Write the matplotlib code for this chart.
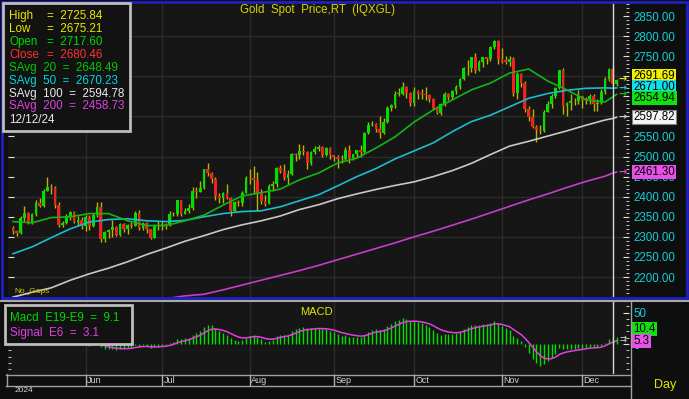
import matplotlib
matplotlib.use("Agg")
import matplotlib.pyplot as plt
import matplotlib.transforms as mtransforms
from matplotlib.lines import Line2D
from matplotlib.patches import Rectangle
from matplotlib.ticker import MultipleLocator, FuncFormatter
import numpy as np
import pandas as pd

plt.rcParams["font.family"] = ["Liberation Sans", "DejaVu Sans"]

# ---- data (daily bars, 7 May - 13 Dec 2024) ----
dates = pd.bdate_range("2024-05-07", "2024-12-13")

opens = [2323, 2314, 2309, 2346, 2360, 2336, 2358, 2385, 2377, 2415, 2425, 2421, 2379, 2329, 2334, 2351, 2361, 2338, 2343,
         2327, 2350, 2327, 2355, 2375, 2294, 2311, 2316, 2324, 2304, 2333, 2319, 2329, 2328, 2360, 2322, 2334, 2319, 2298, 2327,
         2326, 2332, 2330, 2356, 2356, 2392, 2358, 2364, 2371, 2415, 2411, 2422, 2469, 2459, 2445, 2401, 2396, 2409, 2398, 2364, 2387, 2384, 2410,
         2447, 2446, 2442, 2409, 2390, 2382, 2427, 2431, 2472, 2465, 2447, 2456, 2507, 2504, 2514, 2512, 2484, 2512, 2518, 2524, 2504, 2521,
         2503, 2500, 2493, 2495, 2516, 2497, 2506, 2516, 2512, 2558, 2578, 2582, 2569, 2559, 2587, 2622, 2629, 2657, 2657, 2672, 2658,
         2634, 2663, 2657, 2656, 2653, 2644, 2622, 2608, 2630, 2657, 2649, 2662, 2674, 2693, 2721, 2720, 2748, 2715, 2736, 2747, 2743, 2774, 2788,
         2744, 2741, 2736, 2743, 2659, 2706, 2684, 2618, 2598, 2573, 2565, 2563, 2612, 2631, 2651, 2670, 2715, 2626, 2633, 2638, 2639,
         2650, 2640, 2643, 2650, 2632, 2633, 2660, 2694, 2717.60, 2680.46]
highs = [2326, 2318, 2351, 2378, 2363, 2360, 2391, 2398, 2418, 2450, 2432, 2427, 2386, 2339, 2358, 2364, 2364, 2351, 2349,
         2354, 2354, 2359, 2388, 2387, 2314, 2320, 2342, 2326, 2335, 2334, 2333, 2336, 2365, 2368, 2337, 2336, 2320, 2331, 2339,
         2339, 2335, 2365, 2363, 2393, 2393, 2372, 2381, 2424, 2424, 2440, 2470, 2483, 2461, 2449, 2409, 2412, 2431, 2400, 2390, 2393, 2413, 2451,
         2470, 2477, 2461, 2420, 2404, 2431, 2438, 2474, 2479, 2481, 2467, 2509, 2510, 2531, 2528, 2514, 2513, 2526, 2528, 2526, 2524, 2523,
         2505, 2503, 2503, 2523, 2529, 2507, 2517, 2529, 2560, 2586, 2589, 2583, 2600, 2595, 2626, 2632, 2664, 2670, 2685, 2675, 2660,
         2673, 2666, 2669, 2672, 2655, 2646, 2627, 2633, 2661, 2658, 2665, 2677, 2696, 2722, 2740, 2749, 2758, 2740, 2748, 2748, 2775, 2790, 2790,
         2770, 2750, 2750, 2749, 2710, 2709, 2687, 2627, 2618, 2578, 2578, 2616, 2639, 2656, 2674, 2716, 2721, 2635, 2655, 2646, 2665,
         2651, 2648, 2657, 2656, 2644, 2668, 2697, 2721, 2725.84, 2693]
lows = [2308, 2303, 2306, 2340, 2333, 2332, 2353, 2375, 2374, 2413, 2407, 2372, 2325, 2325, 2332, 2341, 2334, 2326, 2319,
        2314, 2316, 2325, 2349, 2287, 2287, 2298, 2299, 2301, 2302, 2311, 2306, 2323, 2326, 2317, 2316, 2310, 2294, 2297, 2318,
        2318, 2319, 2326, 2351, 2353, 2353, 2356, 2360, 2368, 2397, 2411, 2419, 2451, 2433, 2393, 2384, 2384, 2395, 2353, 2361, 2376, 2377, 2409,
        2431, 2410, 2364, 2383, 2377, 2381, 2415, 2424, 2460, 2442, 2432, 2453, 2489, 2495, 2504, 2470, 2480, 2507, 2513, 2500, 2502, 2493,
        2490, 2472, 2484, 2491, 2485, 2491, 2498, 2500, 2510, 2555, 2576, 2560, 2546, 2555, 2584, 2613, 2622, 2652, 2654, 2645, 2625,
        2625, 2643, 2644, 2642, 2636, 2615, 2605, 2603, 2627, 2640, 2643, 2656, 2669, 2690, 2704, 2710, 2708, 2713, 2722, 2730, 2737, 2767, 2731,
        2733, 2730, 2725, 2652, 2644, 2673, 2610, 2589, 2572, 2537, 2555, 2560, 2610, 2620, 2645, 2667, 2605, 2602, 2616, 2629, 2632,
        2622, 2630, 2632, 2613, 2614, 2631, 2657, 2689, 2675.21, 2676]
closes = [2314, 2309, 2346, 2360, 2336, 2358, 2385, 2377, 2415, 2425, 2421, 2379, 2329, 2334, 2351, 2361, 2338, 2343, 2327,
          2350, 2327, 2355, 2375, 2294, 2311, 2316, 2324, 2304, 2333, 2319, 2329, 2328, 2360, 2322, 2334, 2319, 2298, 2327, 2326,
          2332, 2330, 2356, 2356, 2392, 2358, 2364, 2371, 2415, 2411, 2422, 2469, 2459, 2445, 2401, 2396, 2409, 2398, 2364, 2387, 2384, 2410, 2447,
          2446, 2442, 2409, 2390, 2382, 2427, 2431, 2472, 2465, 2447, 2456, 2507, 2504, 2514, 2512, 2484, 2512, 2518, 2524, 2504, 2521, 2503,
          2500, 2493, 2495, 2516, 2497, 2506, 2516, 2512, 2558, 2578, 2582, 2569, 2559, 2587, 2622, 2629, 2657, 2657, 2672, 2658, 2634,
          2663, 2657, 2656, 2653, 2644, 2622, 2608, 2630, 2657, 2649, 2662, 2674, 2693, 2721, 2720, 2748, 2715, 2736, 2747, 2743, 2774, 2788, 2744,
          2736, 2736, 2743, 2659, 2706, 2684, 2618, 2598, 2573, 2565, 2563, 2612, 2631, 2651, 2670, 2715, 2626, 2633, 2638, 2639, 2650,
          2640, 2643, 2650, 2632, 2633, 2660, 2694, 2718, 2680.46, 2691.69]

# moving averages every 5th bar, plus the last two bars
ma_idx = list(range(0, 156, 5)) + [157, 158]
sma20 = [2338, 2335, 2348, 2350, 2358, 2358, 2340, 2328, 2328, 2340, 2354, 2379, 2402, 2410, 2419, 2442,
         2459, 2484, 2496, 2521, 2549, 2586, 2616, 2641, 2666, 2683, 2708, 2718, 2688, 2666, 2641, 2636, 2648.49, 2654.94]
sma50 = [2258, 2275, 2298, 2320, 2337, 2343, 2345, 2340, 2338, 2341, 2350, 2358, 2363, 2365, 2375, 2390,
         2405, 2427, 2450, 2470, 2494, 2514, 2534, 2562, 2587, 2603, 2624, 2645, 2657, 2665, 2670, 2671, 2670.23, 2671.00]
sma100 = [2150, 2162, 2173, 2192, 2208, 2222, 2238, 2256, 2272, 2289, 2303, 2318, 2330, 2340, 2352, 2368,
          2380, 2395, 2407, 2418, 2428, 2437, 2450, 2465, 2483, 2505, 2526, 2538, 2551, 2564, 2578, 2591, 2594.78, 2597.82]
sma200 = [2085, 2093, 2101, 2108, 2116, 2124, 2131, 2138, 2146, 2153, 2157, 2168, 2180, 2192, 2204, 2216,
          2229, 2243, 2257, 2271, 2285, 2300, 2314, 2329, 2344, 2360, 2376, 2392, 2407, 2423, 2438, 2451, 2458.73, 2461.30]

cursor = 157                      # 12/12/24
macd_legend = (9.1, 3.1)          # values shown in the MACD box at the cursor
macd_tags = (10.4, 5.3)           # values on the right axis (last bar)

# ---- colours ----
BG = "#161616"
FIG_BG = "#0e0e0e"
GRID = "#2c2c2c"
GREEN = "#00e000"
RED = "#f22020"
WICK = "#bab400"
YELLOW = "#e4e400"
CYAN = "#10d0d8"
MA20 = "#14b414"
MA50 = "#1cbccc"
MA100 = "#c8c8c8"
MA200 = "#c83cc8"
MAG = "#e040e0"

W, H = 689, 399


def fx(px):
    return px / W


def fy(py):
    return 1 - py / H


fig = plt.figure(figsize=(W / 100, H / 100), dpi=100, facecolor=FIG_BG)
ax = fig.add_axes([fx(8), fy(297), fx(629) - fx(8), fy(3) - fy(297)], facecolor=BG)
axm = fig.add_axes([fx(8), fy(374), fx(629) - fx(8), fy(302) - fy(374)], facecolor=BG)
axd = fig.add_axes([fx(8), fy(386), fx(629) - fx(8), fy(374) - fy(386)], facecolor="none")

x = np.arange(len(closes))
xlim = (-1.31, 161.26)
month_starts = [i for i in range(1, len(dates)) if dates[i].month != dates[i - 1].month]

# ---- price pane ----
ax.set_xlim(*xlim)
ax.set_ylim(2150.2, 2882.4)
for v in range(2200, 2801, 100):
    ax.axhline(v, color=GRID, lw=1, zorder=0)
for i in month_starts:
    ax.axvline(i, color=GRID, lw=1, zorder=0)

o, h, l, c = map(np.array, (opens, highs, lows, closes))
ax.vlines(x, l, h, color=WICK, lw=1, zorder=2)
body = np.maximum(np.abs(c - o), 1.5)
ax.bar(x, body, bottom=np.minimum(o, c), width=0.72,
       color=np.where(c >= o, GREEN, RED), linewidth=0, zorder=3)

ax.plot(ma_idx, sma200, color=MA200, lw=1.2, zorder=4)
ax.plot(ma_idx, sma100, color=MA100, lw=1.2, zorder=4)
ax.plot(ma_idx, sma50, color=MA50, lw=1.2, zorder=4)
ax.plot(ma_idx, sma20, color=MA20, lw=1.2, zorder=4)
ax.axvline(cursor, color="#d8d8d8", lw=1, zorder=5)

ax.yaxis.tick_right()
ax.yaxis.set_major_locator(MultipleLocator(50))
ax.yaxis.set_minor_locator(MultipleLocator(10))
ax.yaxis.set_major_formatter(FuncFormatter(lambda v, p: f"{v:.2f}"))
ax.tick_params(axis="y", which="both", direction="in", color="#e0e0e0", left=True, right=True,
               labelleft=False, labelright=True, labelcolor=CYAN, labelsize=8.3, pad=3)
ax.tick_params(axis="y", which="major", length=4)
ax.tick_params(axis="y", which="minor", length=2.5, left=False)
ax.tick_params(axis="x", bottom=False, labelbottom=False)
for s in ax.spines.values():
    s.set_visible(False)


def tag_positions(values, gap, anchor="mid"):
    # push overlapping tags apart: centred on the group, or resting on its lowest tag
    order = sorted(range(len(values)), key=lambda k: -values[k])
    groups, cur = [], [order[0]]
    for k in order[1:]:
        if values[cur[-1]] - values[k] < gap:
            cur.append(k)
        else:
            groups.append(cur)
            cur = [k]
    groups.append(cur)
    pos = list(values)
    for g in groups:
        if anchor == "mid":
            top = np.mean([values[k] for k in g]) + gap * (len(g) - 1) / 2
        else:
            top = values[g[-1]] + gap * (len(g) - 1)
        for j, k in enumerate(g):
            pos[k] = top - j * gap
    return pos


def px_per_unit(a):
    y0, y1 = a.get_ylim()
    return a.bbox.height / (y1 - y0)


tag_x = (633.5 - 8) / 621
arrow_x = (623 - 8) / 621

last_vals = [closes[-1], sma50[-1], sma20[-1], sma100[-1], sma200[-1]]
last_cols = ["#f0f000", "#10e0e8", "#10e010", "#f4f4f4", "#e850e8"]
arrow_cols = [YELLOW, CYAN, "#10c010", "#d0d0d0", MAG]
trans = mtransforms.blended_transform_factory(ax.transAxes, ax.transData)
for v, p, fc, ac in zip(last_vals, tag_positions(last_vals, 11 / px_per_unit(ax)), last_cols, arrow_cols):
    ax.text(arrow_x, v, "\u2192", transform=trans, ha="center", va="center", fontsize=7,
            fontweight="bold", family="DejaVu Sans", color=ac, clip_on=False, zorder=6)
    ax.text(tag_x, p, f"{v:.2f}", transform=trans, ha="left", va="center", fontsize=8.3, color="black",
            bbox=dict(boxstyle="square,pad=0.1", fc=fc, ec="#808080" if fc == "#f4f4f4" else "none", lw=0.8),
            clip_on=False, zorder=6)

ax.text(0.01, 0.018, "No_Gaps", transform=ax.transAxes, fontsize=6, color="#c8c800", va="center", zorder=6)

# ---- MACD pane ----
cs = pd.Series(closes, dtype=float)
macd = cs.ewm(span=9, adjust=False).mean() - cs.ewm(span=19, adjust=False).mean()
signal = macd.ewm(span=6, adjust=False).mean()

axm.set_xlim(*xlim)
axm.set_ylim(-47.6, 66.7)
for i in month_starts:
    axm.axvline(i, color=GRID, lw=1, zorder=0)
axm.vlines(x, 0, macd, color=GREEN, lw=1, zorder=2)
axm.plot(x, signal, color=MAG, lw=1.1, zorder=3)
axm.axvline(cursor, color="#d8d8d8", lw=1, zorder=5)

axm.yaxis.tick_right()
axm.yaxis.set_major_locator(MultipleLocator(50))
axm.yaxis.set_minor_locator(MultipleLocator(10))
axm.yaxis.set_major_formatter(FuncFormatter(lambda v, p: f"{v:.0f}"))
axm.tick_params(axis="y", which="both", direction="in", color="#e0e0e0", left=True, right=True,
                labelleft=False, labelright=True, labelcolor=CYAN, labelsize=8.3, pad=3)
axm.tick_params(axis="y", which="major", length=4)
axm.tick_params(axis="y", which="minor", length=2.5)
axm.tick_params(axis="x", bottom=False, labelbottom=False)
for s in axm.spines.values():
    s.set_visible(False)
axm.text(0.497, 0.86, "MACD", transform=axm.transAxes, ha="center", va="center", fontsize=8, color=YELLOW)

transm = mtransforms.blended_transform_factory(axm.transAxes, axm.transData)
for v, p, fc in zip(macd_tags, tag_positions(list(macd_tags), 12 / px_per_unit(axm), anchor="bottom"),
                    ["#10e010", "#e850e8"]):
    axm.text(arrow_x, v, "\u2192", transform=transm, ha="center", va="center", fontsize=6,
             fontweight="bold", family="DejaVu Sans", color="#c0c0c0", clip_on=False, zorder=6)
    axm.text(tag_x, p, f"{v:.1f}", transform=transm, ha="left", va="center", fontsize=8.3, color="black",
             bbox=dict(boxstyle="square,pad=0.1", fc=fc, ec="none"), clip_on=False, zorder=6)

# ---- date band ----
axd.set_xlim(*xlim)
axd.set_ylim(0, 1)
axd.axis("off")
for i in month_starts:
    axd.vlines(i, 0, 1, color="#b0b0b0", lw=1)
    axd.text(i + 0.4, 0.45, dates[i].strftime("%b"), fontsize=6.5, color="#d4d4d4", ha="left", va="center")
fig.text(fx(15), fy(391), str(dates[0].year), fontsize=6, color="#d4d4d4", ha="left", va="center")
fig.text(fx(665), fy(385), "Day", fontsize=9, color=YELLOW, ha="center", va="center")

# ---- frames and separators ----
def fig_line(x0, y0, x1, y1, color, lw):
    fig.add_artist(Line2D([fx(x0), fx(x1)], [fy(y0), fy(y1)], color=color, lw=lw, zorder=1))


fig.add_artist(Rectangle((fx(2), fy(298)), fx(687) - fx(2), fy(1.5) - fy(298), fill=False,
                         ec="#2020c0", lw=2, zorder=1))
fig_line(0, 300.5, 689, 300.5, "#a8a8a8", 1.5)
fig_line(6, 374.5, 631, 374.5, "#a0a0a0", 1)
fig_line(6, 385.5, 631, 385.5, "#a0a0a0", 1)
fig_line(6.5, 374, 6.5, 386, "#a0a0a0", 1)
fig_line(631, 301, 631, 399, "#a0a0a0", 1)

# ---- value box, top left ----
fig.add_artist(Rectangle((fx(3), fy(131)), fx(130) - fx(3), fy(3) - fy(131), fc="#121212",
                         ec="#bdbdbd", lw=2, zorder=2))
i = cursor
rows = [("High", highs[i], "#e8e800"), ("Low", lows[i], "#e8e800"),
        ("Open", opens[i], "#00d800"), ("Close", closes[i], "#ff3030")]
for k, (name, val, col) in enumerate(rows):
    yy = fy(16 + 13 * k)
    fig.text(fx(9), yy, name, fontsize=8.4, color=col, va="center", zorder=3)
    fig.text(fx(47), yy, f"=  {val:.2f}", fontsize=8.4, color=col, va="center", zorder=3)
ma_rows = [(20, sma20[-2], "#00c800"), (50, sma50[-2], "#00d8e0"),
           (100, sma100[-2], "#e8e8e8"), (200, sma200[-2], MAG)]
for k, (n, val, col) in enumerate(ma_rows):
    fig.text(fx(9), fy(68 + 12.8 * k), f"SAvg  {n}  =  {val:.2f}", fontsize=8.4, color=col, va="center", zorder=3)
fig.text(fx(9), fy(120), dates[cursor].strftime("%m/%d/%y"), fontsize=8.4, color="#e8e8e8", va="center", zorder=3)

# ---- MACD box ----
fig.add_artist(Rectangle((fx(5), fy(344)), fx(132) - fx(5), fy(305) - fy(344), fc="#121212",
                         ec="#bdbdbd", lw=2, zorder=2))
fig.text(fx(10), fy(318), f"Macd  E19-E9  =  {macd_legend[0]}", fontsize=8.4, color="#00d800", va="center", zorder=3)
fig.text(fx(10), fy(333), f"Signal  E6  =  {macd_legend[1]}", fontsize=8.4, color=MAG, va="center", zorder=3)

fig.text(fx(317.5), fy(10), "Gold  Spot  Price,RT  (IQXGL)", fontsize=8.3, color="#d4d400", ha="center", va="center")

fig.savefig("out.png", dpi=100, facecolor=FIG_BG)
